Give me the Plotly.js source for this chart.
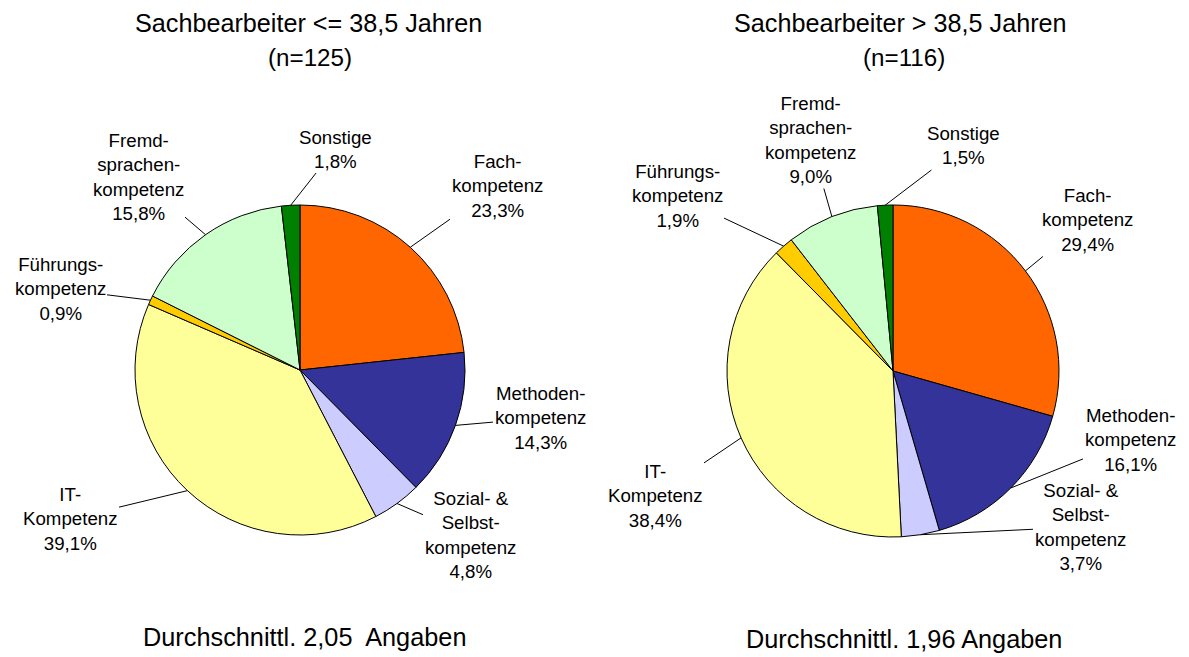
<!DOCTYPE html>
<html>
<head>
<meta charset="utf-8">
<script src="https://cdn.plot.ly/plotly-3.0.1.min.js"></script>
<style>html,body{margin:0;padding:0;background:#fff;} #chart{width:1189px;height:657px;}</style>
</head>
<body>
<div id="chart"></div>
<script>
// ---- data ----
const categories = ["Fachkompetenz","Methodenkompetenz","Sozial- & Selbstkompetenz","IT-Kompetenz","Führungskompetenz","Fremdsprachenkompetenz","Sonstige"];
const labelTexts = ["Fach-<br>kompetenz","Methoden-<br>kompetenz","Sozial- &<br>Selbst-<br>kompetenz","IT-<br>Kompetenz","Führungs-<br>kompetenz","Fremd-<br>sprachen-<br>kompetenz","Sonstige"];
const valuesYoung = [23.3, 14.3, 4.8, 39.1, 0.9, 15.8, 1.8];
const valuesOld = [29.4, 16.1, 3.7, 38.4, 1.9, 9.0, 1.5];
const colors = ["#FF6600","#333399","#CCCCFF","#FFFF99","#FFCC00","#CCFFCC","#008000"];
const titleYoung = ["Sachbearbeiter <= 38,5 Jahren", "(n=125)"];
const titleOld = ["Sachbearbeiter > 38,5 Jahren", "(n=116)"];
const footYoung = "Durchschnittl. 2,05\u00a0 Angaben";
const footOld = "Durchschnittl. 1,96 Angaben";

// ---- layout constants (pixels) ----
const W = 1189, H = 657;
const FONT = "Liberation Sans, Arial, sans-serif";
const pieGeom = [{cx:300, cy:370, r:165}, {cx:893, cy:371, r:166}];
const labelPos = [
  [[497,186],[540,418],[470,535],[70,519],[60,289],[138,177],[335,149]],
  [[1087,220],[1130,440],[1080,527],[655,496],[677,196],[810,140],[963,146]]
];
const titlePos = [[308,23,310,57],[900,23,904,57]];
const footPos = [[304,637],[904,639]];

const fmt = v => v.toFixed(1).replace(".", ",") + "%";
const px2x = p => p / W;
const py2y = p => 1 - p / H;

const traces = [];
const annotations = [];
[valuesYoung, valuesOld].forEach((vals, k) => {
  const g = pieGeom[k];
  traces.push({
    type: "pie",
    labels: categories,
    values: vals,
    sort: false,
    direction: "clockwise",
    rotation: 0,
    marker: {colors: colors, line: {color: "#000", width: 1}},
    textinfo: "none",
    hoverinfo: "label+percent",
    showlegend: false,
    domain: {x: [px2x(g.cx - g.r), px2x(g.cx + g.r)], y: [py2y(g.cy + g.r), py2y(g.cy - g.r)]}
  });
  const total = vals.reduce((a, b) => a + b, 0);
  let cum = 0;
  vals.forEach((v, i) => {
    const mid = (cum + v / 2) / total * 2 * Math.PI;
    cum += v;
    const tx = g.cx + g.r * Math.sin(mid);
    const ty = g.cy - g.r * Math.cos(mid);
    const [lx, ly] = labelPos[k][i];
    annotations.push({
      xref: "paper", yref: "paper",
      x: px2x(tx), y: py2y(ty),
      ax: lx - tx, ay: ly - ty,
      text: labelTexts[i] + "<br>" + fmt(v),
      showarrow: true, arrowhead: 0, arrowwidth: 1, arrowcolor: "#000",
      standoff: 0, startstandoff: 0,
      align: "center",
      font: {family: FONT, size: 18.7, color: "#000"}
    });
  });
});

[titleYoung, titleOld].forEach((t, k) => {
  const p = titlePos[k];
  annotations.push({xref:"paper", yref:"paper", x:px2x(p[0]), y:py2y(p[1]), text:t[0], showarrow:false,
    xanchor:"center", yanchor:"middle", font:{family:FONT, size:25.2, color:"#000"}});
  annotations.push({xref:"paper", yref:"paper", x:px2x(p[2]), y:py2y(p[3]), text:t[1], showarrow:false,
    xanchor:"center", yanchor:"middle", font:{family:FONT, size:24.2, color:"#000"}});
});
[footYoung, footOld].forEach((t, k) => {
  const p = footPos[k];
  annotations.push({xref:"paper", yref:"paper", x:px2x(p[0]), y:py2y(p[1]), text:t, showarrow:false,
    xanchor:"center", yanchor:"middle", font:{family:FONT, size:25.3, color:"#000"}});
});

const layout = {
  width: W, height: H,
  margin: {l:0, r:0, t:0, b:0},
  paper_bgcolor: "#fff",
  showlegend: false,
  annotations: annotations,
  font: {family: FONT, color: "#000"}
};
Plotly.newPlot("chart", traces, layout, {displayModeBar: false, staticPlot: true});
</script>
</body>
</html>
